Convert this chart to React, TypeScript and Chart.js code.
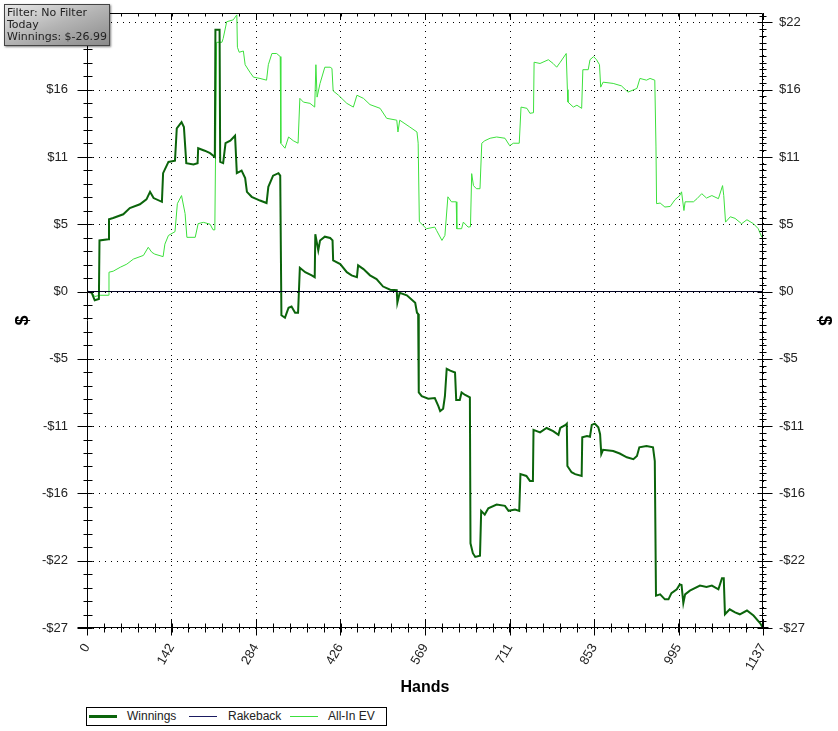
import React, { useEffect, useRef } from 'react';
import { Chart, registerables } from 'chart.js';

Chart.register(...registerables);

// ---- Data ----
const WIN_HANDS = [
  0, 8, 13, 20, 21, 36, 37, 44, 61, 72, 89, 100, 106, 112, 126, 128, 137, 148, 151, 159,
  163, 167, 179, 186, 187, 198, 207, 215, 216, 223, 224, 229, 233, 241, 249, 252, 260, 266, 269, 277,
  291, 302, 305, 313, 322, 325, 327, 333, 339, 344, 350, 355, 358, 367, 378, 383, 384, 389, 392, 400,
  409, 413, 414, 426, 437, 445, 454, 456, 465, 476, 487, 498, 510, 521, 522, 526, 538, 552, 555, 557,
  558, 563, 574, 585, 591, 594, 599, 602, 605, 611, 619, 621, 627, 630, 636, 644, 645, 649, 653, 661,
  663, 669, 675, 689, 703, 709, 720, 727, 729, 739, 745, 750, 751, 762, 773, 784, 793, 796, 805, 807,
  808, 815, 821, 832, 833, 841, 846, 849, 854, 860, 863, 865, 868, 885, 896, 908, 919, 925, 929, 941,
  952, 955, 957, 964, 972, 978, 983, 992, 997, 1000, 1003, 1006, 1014, 1031, 1042, 1051, 1062, 1068, 1071, 1073,
  1081, 1090, 1098, 1110, 1121, 1132, 1137,
];
const WIN_VALUES = [
  0, -0.1, -0.7, -0.6, 4.1, 4.2, 5.8, 5.9, 6.2, 6.7, 7.0, 7.4, 8.0, 7.5, 7.2, 9.5, 10.4, 10.5, 13.1, 13.6,
  13.2, 10.3, 10.2, 10.3, 11.5, 11.3, 11.1, 10.8, 21.0, 21.0, 10.4, 10.3, 11.9, 12.1, 12.5, 9.5, 9.7, 9.1, 8.0, 7.6,
  7.3, 7.1, 8.4, 9.3, 9.5, 9.3, -1.9, -2.1, -1.3, -1.2, -1.7, -1.7, 1.9, 1.55, 1.3, 1.15, 4.6, 3.3, 4.1, 4.4,
  4.3, 4.1, 2.5, 2.2, 1.55, 1.3, 1.15, 2.1, 1.8, 1.3, 1.0, 0.4, 0.14, 0.1, -0.9, -0.1, -0.3, -0.9, -1.7, -1.8,
  -8.1, -8.4, -8.6, -8.55, -9.2, -9.6, -9.4, -8.4, -6.2, -6.35, -6.5, -8.7, -8.7, -8.1, -8.3, -8.5, -20.2, -21.0, -21.3, -21.2,
  -17.6, -17.9, -17.4, -17.1, -17.2, -17.6, -17.5, -17.6, -14.65, -14.8, -15.2, -15.2, -11.1, -11.3, -10.95, -11.2, -11.5, -10.95, -10.7, -10.6,
  -14.0, -14.5, -14.65, -14.8, -11.7, -11.6, -11.65, -10.7, -10.6, -10.9, -11.45, -13.05, -12.7, -12.8, -13.0, -13.3, -13.45, -13.2, -12.5, -12.4,
  -12.5, -13.6, -24.4, -24.3, -24.7, -24.7, -24.2, -23.9, -23.5, -23.55, -25.0, -24.3, -24.0, -23.6, -23.7, -23.6, -23.9, -23.0, -23.0, -25.9,
  -25.5, -25.75, -25.9, -25.6, -26.0, -26.6, -26.99,
];

const EV_HANDS = [
  0, 8, 13, 22, 36, 37, 44, 56, 67, 78, 95, 103, 109, 114, 128, 131, 137, 148, 152, 159,
  165, 168, 182, 187, 196, 207, 212, 215, 218, 227, 229, 235, 246, 252, 253, 256, 263, 266, 274, 280,
  291, 302, 305, 311, 319, 325, 326, 333, 339, 347, 355, 358, 364, 375, 383, 385, 387, 392, 400, 409,
  412, 414, 423, 437, 448, 454, 465, 476, 493, 504, 521, 523, 526, 543, 555, 557, 559, 571, 585, 588,
  597, 602, 607, 613, 621, 622, 630, 633, 641, 645, 647, 650, 655, 661, 664, 669, 678, 689, 703, 711,
  717, 727, 730, 740, 745, 751, 752, 762, 776, 784, 790, 796, 806, 808, 809, 818, 824, 832, 834, 843,
  846, 852, 857, 862, 864, 868, 885, 899, 910, 925, 930, 941, 947, 955, 957, 958, 964, 972, 981, 989,
  997, 1000, 1004, 1006, 1020, 1026, 1034, 1042, 1051, 1062, 1069, 1071, 1074, 1082, 1090, 1101, 1110, 1121, 1129, 1135,
  1137,
];
const EV_VALUES = [
  0, -0.1, -0.4, -0.3, -0.3, 1.55, 1.63, 1.95, 2.2, 2.6, 2.9, 3.55, 3.15, 3.0, 2.8, 3.8, 4.5, 4.8, 7.05, 7.7,
  6.25, 4.35, 4.35, 5.45, 5.55, 5.4, 4.95, 4.95, 20.0, 20.0, 20.3, 21.65, 21.8, 22.2, 19.6, 19.2, 19.3, 18.2, 17.6, 17.2,
  17.1, 16.96, 18.2, 19.1, 19.1, 18.85, 11.9, 11.5, 12.4, 12.1, 11.9, 15.5, 15.2, 15.1, 14.8, 18.2, 15.6, 16.7, 18.0, 18.0,
  17.9, 16.1, 15.75, 15.1, 14.8, 15.75, 15.5, 15.0, 14.7, 13.9, 13.75, 12.8, 13.75, 13.2, 12.8, 11.9, 5.6, 5.04, 5.17, 4.9,
  4.1, 4.5, 7.6, 7.2, 7.2, 5.04, 5.04, 5.57, 5.17, 5.2, 9.46, 8.5, 8.25, 8.25, 11.9, 12.1, 12.3, 12.4, 12.3, 11.7,
  11.9, 11.9, 14.8, 14.7, 14.3, 14.35, 18.4, 18.3, 18.6, 18.3, 18.0, 18.4, 19.1, 16.2, 15.2, 14.8, 14.95, 14.7, 17.8, 17.8,
  18.6, 18.85, 18.6, 18.2, 16.4, 16.8, 16.7, 16.5, 16.0, 16.3, 17.1, 16.96, 17.1, 16.96, 11.6, 7.05, 7.1, 6.78, 6.83, 7.37,
  7.7, 8.0, 6.5, 7.2, 7.2, 7.45, 7.85, 7.5, 7.7, 7.45, 8.5, 7.7, 5.57, 6.0, 5.87, 5.44, 5.76, 5.44, 5.04, 4.36,
  4.3,
];

const RAKEBACK_HANDS = [0, 1137];
const RAKEBACK_VALUES = [0, 0];

const X_TICKS = [0, 142, 284, 426, 569, 711, 853, 995, 1137];
const X_TICK_LABELS = ['0', '142', '284', '426', '569', '711', '853', '995', '1137'];
const Y_TICKS = [-27, -21.6, -16.2, -10.8, -5.4, 0, 5.4, 10.8, 16.2, 21.6];
const Y_TICK_LABELS = ['-$27', '-$22', '-$16', '-$11', '-$5', '$0', '$5', '$11', '$16', '$22'];
const X_MIN = 0;
const X_MAX = 1137;
const Y_MIN = -27;
const Y_MAX = 22.35;

const SERIES_NAMES = ['Winnings', 'Rakeback', 'All-In EV'];
const SERIES_COLORS = ['#0b640b', '#000022', '#3ce03c'];
const LEGEND_COLORS = ['#0b640b', '#1a1a60', '#3ce03c'];
const SERIES_WIDTHS = [2, 1, 1];
const FILTER_LINES = ['Filter: No Filter', 'Today', 'Winnings: $-26.99'];
const X_TITLE = 'Hands';
const Y_TITLE = '$';

const FONT = '"Liberation Sans", Arial, sans-serif';

const framePlugin = {
  id: 'frame',
  beforeDatasetsDraw(chart: any) {
    const { ctx, chartArea } = chart;
    const { left, right, top, bottom } = chartArea;
    const xs = chart.scales.x;
    const ys = chart.scales.y;
    ctx.save();
    ctx.strokeStyle = '#000';
    ctx.lineWidth = 1;
    ctx.setLineDash([1, 5]);
    ys.ticks.forEach((t: any) => {
      const py = Math.round(ys.getPixelForValue(t.value)) + 0.5;
      ctx.beginPath();
      ctx.moveTo(left, py);
      ctx.lineTo(right, py);
      ctx.stroke();
    });
    xs.ticks.forEach((t: any) => {
      const px = Math.round(xs.getPixelForValue(t.value)) + 0.5;
      ctx.beginPath();
      ctx.moveTo(px, top);
      ctx.lineTo(px, bottom);
      ctx.stroke();
    });
    ctx.restore();
  },
  afterDraw(chart: any) {
    const { ctx, chartArea } = chart;
    const xs = chart.scales.x;
    const ys = chart.scales.y;
    const L = Math.round(chartArea.left) + 0.5;
    const R = Math.round(chartArea.right) - 0.5;
    const T = Math.round(chartArea.top) + 0.5;
    const B = Math.round(chartArea.bottom) - 0.5;
    ctx.save();
    ctx.strokeStyle = '#000';
    ctx.lineWidth = 1;
    ctx.setLineDash([]);
    const seg = (x1: number, y1: number, x2: number, y2: number) => {
      ctx.beginPath();
      ctx.moveTo(x1, y1);
      ctx.lineTo(x2, y2);
      ctx.stroke();
    };
    seg(L, T, L, B);
    seg(R, T, R, B);
    seg(L, T, R, T);
    seg(L - 10, B, R + 6, B);
    ys.ticks.forEach((t: any) => {
      const q = Math.round(ys.getPixelForValue(t.value)) + 0.5;
      seg(L - 10, q, L + 5, q);
      seg(R - 5, q, R + 10, q);
    });
    const ystep = Y_TICKS[1] - Y_TICKS[0];
    for (let v = Y_TICKS[0]; v <= Y_MAX + 1e-6; v += ystep / 10) {
      const q = Math.round(ys.getPixelForValue(v)) + 0.5;
      seg(R - 3, q, R + 4, q);
    }
    for (let v = Y_TICKS[0]; v <= Y_MAX + 1e-6; v += ystep / 5) {
      const q = Math.round(ys.getPixelForValue(v)) + 0.5;
      seg(L - 4, q, L + 5, q);
    }
    xs.ticks.forEach((t: any) => {
      const q = Math.round(xs.getPixelForValue(t.value)) + 0.5;
      seg(q, B - 8, q, B + 8);
      seg(q, T, q, T + 6);
    });
    const xstep = (X_TICKS[X_TICKS.length - 1] - X_TICKS[0]) / (X_TICKS.length - 1) / 5;
    for (let v = X_TICKS[0]; v <= X_MAX + 1e-6; v += xstep) {
      const q = Math.round(xs.getPixelForValue(v)) + 0.5;
      seg(q, B - 4, q, B + 5);
      seg(q, T, q, T + 3);
    }
    ctx.restore();
  },
};

export default function App() {
  const canvasRef = useRef<HTMLCanvasElement | null>(null);

  useEffect(() => {
    const canvas = canvasRef.current;
    if (!canvas) return;
    const hands = [WIN_HANDS, RAKEBACK_HANDS, EV_HANDS];
    const values = [WIN_VALUES, RAKEBACK_VALUES, EV_VALUES];
    const orders = [1, 0, 2];
    const tickFont = { family: FONT, size: 13 };
    const noPad = (s: any) => {
      s.paddingTop = 0;
      s.paddingBottom = 0;
      s.paddingLeft = 0;
      s.paddingRight = 0;
    };
    const chart = new Chart(canvas, {
      type: 'line',
      data: {
        datasets: SERIES_NAMES.map((name, i) => ({
          label: name,
          data: hands[i].map((h, j) => ({ x: h, y: values[i][j] })),
          borderColor: SERIES_COLORS[i],
          backgroundColor: SERIES_COLORS[i],
          borderWidth: SERIES_WIDTHS[i],
          pointRadius: 0,
          tension: 0,
          fill: false,
          order: orders[i],
          xAxisID: 'x',
          yAxisID: 'y',
        })),
      },
      options: {
        responsive: false,
        animation: false,
        events: [],
        layout: { padding: { top: 13, left: 0, right: 0, bottom: 0 } },
        plugins: { legend: { display: false }, tooltip: { enabled: false } },
        scales: {
          x: {
            type: 'linear',
            position: 'bottom',
            min: X_MIN,
            max: X_MAX,
            afterBuildTicks: (s: any) => {
              s.ticks = X_TICKS.map((v) => ({ value: v }));
            },
            ticks: {
              autoSkip: false,
              maxRotation: 60,
              minRotation: 60,
              padding: 13,
              color: '#222',
              font: tickFont,
              callback: (_v: any, i: number) => X_TICK_LABELS[i],
            },
            grid: { display: false, drawTicks: false },
            border: { display: false },
            title: {
              display: true,
              text: X_TITLE,
              color: '#000',
              font: { family: FONT, size: 16, weight: 'bold' },
              padding: { top: 0, bottom: 34 },
            },
            afterFit: (s: any) => {
              s.height = 103;
              noPad(s);
            },
          },
          y: {
            type: 'linear',
            position: 'left',
            min: Y_MIN,
            max: Y_MAX,
            afterBuildTicks: (s: any) => {
              s.ticks = Y_TICKS.map((v) => ({ value: v }));
            },
            ticks: {
              padding: 19,
              color: '#222',
              font: tickFont,
              callback: (_v: any, i: number) => Y_TICK_LABELS[i],
            },
            grid: { display: false, drawTicks: false },
            border: { display: false },
            title: {
              display: true,
              text: Y_TITLE,
              color: '#000',
              font: { family: FONT, size: 18, weight: 'bold' },
              padding: { top: 12, bottom: 0 },
            },
            afterFit: (s: any) => {
              s.width = 87;
              noPad(s);
            },
          },
          y2: {
            type: 'linear',
            position: 'right',
            min: Y_MIN,
            max: Y_MAX,
            afterBuildTicks: (s: any) => {
              s.ticks = Y_TICKS.map((v) => ({ value: v }));
            },
            ticks: {
              padding: 16,
              color: '#222',
              font: tickFont,
              callback: (_v: any, i: number) => Y_TICK_LABELS[i],
            },
            grid: { display: false, drawTicks: false },
            border: { display: false },
            title: {
              display: true,
              text: Y_TITLE,
              color: '#000',
              font: { family: FONT, size: 18, weight: 'bold' },
              padding: { top: 3, bottom: 0 },
            },
            afterFit: (s: any) => {
              s.width = 75;
              noPad(s);
            },
          },
        },
      } as any,
      plugins: [framePlugin],
    });
    return () => chart.destroy();
  }, []);

  const legendItems = [
    { sx: 2, tx: 40 },
    { sx: 102, tx: 141 },
    { sx: 203, tx: 241 },
  ];

  return (
    <div style={{ position: 'absolute', left: 0, top: 0, width: 838, height: 731, background: '#fff', overflow: 'hidden' }}>
      <canvas ref={canvasRef} width={838} height={731} style={{ position: 'absolute', left: 0, top: 0, width: 838, height: 731 }} />
      <div
        style={{
          position: 'absolute',
          left: 4,
          top: 4,
          width: 106,
          height: 42,
          boxSizing: 'border-box',
          border: '1px solid #444',
          background: 'linear-gradient(160deg, #e8e8e8 0%, #b4b4b4 50%, #8a8a8a 100%)',
          boxShadow: '1px 1px 2px rgba(0,0,0,0.5)',
          font: '11px "DejaVu Sans", Verdana, sans-serif',
          lineHeight: '12px',
          color: '#222',
          padding: '2px 0 0 2px',
          whiteSpace: 'nowrap',
          overflow: 'hidden',
        }}
      >
        {FILTER_LINES.map((t) => (
          <div key={t}>{t}</div>
        ))}
      </div>
      <div
        style={{
          position: 'absolute',
          left: 86,
          top: 707,
          width: 301,
          height: 19,
          boxSizing: 'border-box',
          border: '1px solid #000',
          background: '#fff',
          font: '12px "Liberation Sans", Arial, sans-serif',
          color: '#222',
        }}
      >
        {SERIES_NAMES.map((name, i) => (
          <React.Fragment key={name}>
            <div
              style={{
                position: 'absolute',
                left: legendItems[i].sx,
                top: SERIES_WIDTHS[i] === 2 ? 7 : 8,
                width: 28,
                height: SERIES_WIDTHS[i] === 2 ? 3 : 1,
                background: LEGEND_COLORS[i],
              }}
            />
            <div style={{ position: 'absolute', left: legendItems[i].tx, top: 1, lineHeight: '15px' }}>{name}</div>
          </React.Fragment>
        ))}
      </div>
    </div>
  );
}
